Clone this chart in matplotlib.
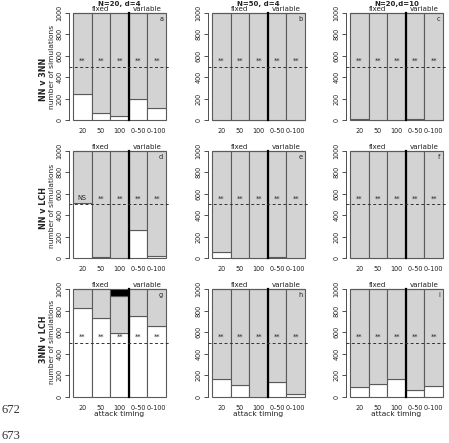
import matplotlib
matplotlib.use("Agg")
import matplotlib.pyplot as plt
import numpy as np

timings = ["20", "50", "100", "0–50", "0–100"]
col_titles = ["N=20, d=4", "N=50, d=4", "N=20,d=10"]
row_titles = ["NN v 3NN", "NN v LCH", "3NN v LCH"]
panel_letters = ["a", "b", "c", "d", "e", "f", "g", "h", "i"]

# white (lower) portion of each bar, per panel
white_a = [245, 62, 34, 194, 109]
white_b = [0, 0, 0, 0, 0]
white_c = [5, 0, 0, 8, 0]
white_d = [512, 10, 0, 261, 19]
white_e = [56, 0, 0, 5, 0]
white_f = [3, 0, 0, 0, 0]
white_g = [820, 727, 590, 748, 661]
white_h = [171, 115, 0, 143, 31]
white_i = [93, 124, 165, 62, 100]
# black (top) portion
black_g = [0, 0, 68, 0, 0]
zeros5 = [0, 0, 0, 0, 0]
total = 1000

sig_a = ["**"] * 5
sig_d = ["NS", "**", "**", "**", "**"]

whites = [white_a, white_b, white_c, white_d, white_e, white_f, white_g, white_h, white_i]
blacks = [zeros5] * 6 + [black_g, zeros5, zeros5]
sigs = [sig_a, sig_a, sig_a, sig_d, sig_a, sig_a, sig_a, sig_a, sig_a]

W, H = 449, 443
fig = plt.figure(figsize=(W / 100, H / 100), dpi=100)

bar_w_px = 18.6
col_bar_left = [73.0, 212.0, 350.0]
row_top = [13.0, 151.0, 289.0]   # pixel of y=1000
row_bot = [120.0, 258.0, 397.0]  # pixel of y=0

edge = "#5a5a5a"
gray = "#d3d3d3"
fs = 4.7

for r in range(3):
    for c in range(3):
        k = r * 3 + c
        ppu_y = (row_bot[r] - row_top[r]) / 1000.0
        y0 = row_bot[r] + 40 * ppu_y
        y1 = row_top[r] - 40 * ppu_y
        x0 = col_bar_left[c] - 0.2 * bar_w_px
        x1 = col_bar_left[c] + 5.2 * bar_w_px
        ax = fig.add_axes([x0 / W, 1 - y0 / H, (x1 - x0) / W, (y0 - y1) / H])
        ax.set_xlim(-0.2, 5.2)
        ax.set_ylim(-40, 1040)
        ax.patch.set_alpha(0)
        xs = np.arange(5) + 0.5
        wv = np.array(whites[k])
        bv = np.array(blacks[k])
        gv = total - wv - bv
        ax.bar(xs, wv, width=1.0, color="white", edgecolor=edge, linewidth=0.8, zorder=2)
        ax.bar(xs, gv, width=1.0, bottom=wv, color=gray, edgecolor=edge, linewidth=0.8, zorder=2)
        ax.bar(xs, bv, width=1.0, bottom=wv + gv, color="black", edgecolor=edge, linewidth=0.8, zorder=2)
        ax.plot([3, 3], [0, 1000], color="black", lw=1.6, zorder=4)
        ax.axhline(500, color="#333333", lw=0.7, ls=(0, (3, 2.5)), zorder=5)
        for i, s in enumerate(sigs[k]):
            ax.text(xs[i], 530, s, ha="center", va="bottom", fontsize=fs, color="#222222", zorder=6)
        ax.text(4.85, 940, panel_letters[k], ha="right", va="center", fontsize=fs, color="#222222", zorder=6)
        ax.text(1.5, 1010, "fixed", ha="center", va="bottom", fontsize=fs + 0.4, color="#222222")
        ax.text(4.0, 1010, "variable", ha="center", va="bottom", fontsize=fs + 0.4, color="#222222")
        for sp in ["top", "right", "bottom"]:
            ax.spines[sp].set_visible(False)
        ax.spines["left"].set_bounds(0, 1000)
        ax.spines["left"].set_linewidth(0.6)
        ax.spines["left"].set_color("#333333")
        ax.set_yticks([0, 200, 400, 600, 800, 1000])
        ax.set_yticklabels(["0", "200", "400", "600", "800", "1000"], rotation=90, va="center",
                           fontsize=fs, color="#222222")
        ax.tick_params(axis="y", length=3, width=0.6, pad=2, color="#333333")
        ax.set_xticks(xs)
        ax.set_xticklabels(timings, fontsize=fs, color="#222222")
        ax.tick_params(axis="x", length=0, pad=3)
        if r == 2:
            ax.set_xlabel("attack timing", fontsize=fs + 0.7, color="#222222", labelpad=0)
        if r == 0:
            fig.text((col_bar_left[c] + 2.5 * bar_w_px) / W, 1 - 6.3 / H, col_titles[c],
                     ha="center", va="baseline", fontsize=fs + 0.3, fontweight="bold", color="#222222")
        if c == 0:
            cy_bold = [79, 208, 339][r]
            cy_lab = [67, 206, 342][r]
            fig.text(43 / W, 1 - cy_bold / H, row_titles[r], rotation=90, ha="center", va="center",
                     fontsize=fs + 1.1, fontweight="bold", color="#222222")
            fig.text(52 / W, 1 - cy_lab / H, "number of simulations", rotation=90, ha="center",
                     va="center", fontsize=fs + 0.7, color="#222222")

fig.text(2 / W, 1 - 413 / H, "672", ha="left", va="baseline", fontsize=9,
         family="Liberation Serif", color="#333333")
fig.text(2 / W, 1 - 442 / H, "673", ha="left", va="bottom", fontsize=9,
         family="Liberation Serif", color="#333333")

fig.savefig("out.png", dpi=100)
